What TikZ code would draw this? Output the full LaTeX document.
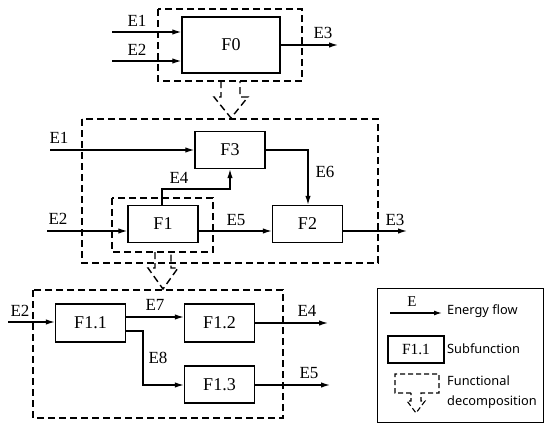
\documentclass[tikz,border=0pt]{standalone}
\usepackage{fontspec}
\setmainfont{Liberation Serif}
\newfontfamily\legendfont{Noto Sans}
\usetikzlibrary{arrows.meta}

\begin{document}
\begin{tikzpicture}[x=1pt,y=-1pt,
  fnbox/.style={draw,line width=1.4pt,minimum width=70pt,minimum height=37pt,inner sep=0pt,font=\fontsize{18}{20}\selectfont},
  decomp/.style={draw,line width=1.4pt,dash pattern=on 7pt off 4pt},
  eflow/.style={-{Latex[length=9pt,width=5.5pt]},line width=1.3pt},
  elabel/.style={font=\fontsize{17}{19}\selectfont,inner sep=0pt},
  legtext/.style={font=\legendfont\fontsize{12.8}{14}\selectfont,anchor=west,inner sep=0pt}]
  \useasboundingbox (0,0) rectangle (550,431);

  % top level
  \node[fnbox,minimum width=98pt,minimum height=56pt] (F0) at (231,45) {F0};
  \draw[decomp] (158,9) rectangle (302,81);
  \coordinate (e1a) at (112,32);
  \coordinate (e2a) at (112,61);
  \coordinate (e3a) at (338,45);
  \draw[eflow] (e1a) -- (e1a -| F0.west);
  \draw[eflow] (e2a) -- (e2a -| F0.west);
  \draw[eflow] (F0.east) -- (e3a);
  \node[elabel] (l1a) at (137,21) {E1};
  \node[elabel] (l2a) at (137,50) {E2};
  \node[elabel] (l3a) at (323,33) {E3};
  \draw[decomp] (221,81) -- (221,97) -- (214,97) -- (231,118) -- (248,97) -- (240,97) -- (240,81);

  % second level
  \draw[decomp] (82,119) rectangle (378,263);
  \node[fnbox] (F3) at (230,150) {F3};
  \node[fnbox] (F1) at (163,224) {F1};
  \node[fnbox] (F2) at (307.5,224) {F2};
  \draw[decomp] (112,198) rectangle (213,252);
  \coordinate (e1b) at (50,150);
  \coordinate (e2b) at (47,231);
  \coordinate (e3b) at (407,231);
  \coordinate (e4b) at (162,189);
  \coordinate (e6b) at (308,150);
  \draw[eflow] (e1b) -- (F3.west);
  \draw[eflow] (e2b) -- (e2b -| F1.west);
  \draw[eflow] (F1.east |- e2b) -- (F2.west |- e2b);
  \draw[eflow] (F2.east |- e2b) -- (e3b);
  \draw[eflow] (F1.north -| e4b) -- (e4b) -| (F3.south);
  \draw[eflow] (F3.east) -- (e6b) -- (F2.north -| e6b);
  \node[elabel] (l1b) at (59,138) {E1};
  \node[elabel] (l2b) at (58,219) {E2};
  \node[elabel] (l4b) at (179,178) {E4};
  \node[elabel] (l5b) at (236,220) {E5};
  \node[elabel] (l6b) at (325,172) {E6};
  \node[elabel] (l3b) at (395,220) {E3};
  \draw[decomp] (155,252) -- (155,268) -- (148,268) -- (163,289) -- (178,268) -- (171,268) -- (171,252);

  % third level
  \draw[decomp] (33,290) rectangle (283,418);
  \node[fnbox,minimum height=38pt] (F11) at (90.5,323) {F1.1};
  \node[fnbox,minimum height=38pt] (F12) at (219.5,323) {F1.2};
  \node[fnbox] (F13) at (219.5,384.5) {F1.3};
  \coordinate (e2c) at (8,322);
  \coordinate (e7c) at (126,317);
  \coordinate (e8c) at (143,331);
  \coordinate (e4c) at (328,323);
  \coordinate (e5c) at (330,385);
  \draw[eflow] (e2c) -- (e2c -| F11.west);
  \draw[eflow] (e7c) -- (e7c -| F12.west);
  \draw[eflow] (F11.east |- e8c) -- (e8c) |- (F13.west |- e5c);
  \draw[eflow] (F12.east |- e4c) -- (e4c);
  \draw[eflow] (F13.east |- e5c) -- (e5c);
  \node[elabel] (l2c) at (20,311) {E2};
  \node[elabel] (l7c) at (155,305) {E7};
  \node[elabel] (l8c) at (158,358) {E8};
  \node[elabel] (l4c) at (307,311) {E4};
  \node[elabel] (l5c) at (309,373) {E5};

  % legend
  \node[draw,line width=0.9pt,minimum width=166pt,minimum height=134pt,inner sep=0pt] (leg) at (460,355) {};
  \coordinate (ega) at (390,313);
  \coordinate (egb) at (442,313);
  \draw[eflow,-{Latex[length=8pt,width=5pt]}] (ega) -- (egb);
  \node[elabel,font=\fontsize{15}{17}\selectfont] (lE) at (412,302) {E};
  \node[fnbox,line width=1.1pt,minimum width=56pt,minimum height=27pt,font=\fontsize{15.5}{17}\selectfont] (Fleg) at (416,349.5) {F1.1};
  \draw[decomp,line width=1.1pt,dash pattern=on 5pt off 3pt] (411,393) -- (395,393) -- (395,374) -- (439,374) -- (439,393) -- (421,393) -- (421,401) -- (425,401) -- (416,413) -- (407,401) -- (411,401) -- cycle;
  \node[legtext] (tflow) at (447,311) {Energy flow};
  \node[legtext] (tsub) at (447,349) {Subfunction};
  \node[legtext] (tfun) at (447,381) {Functional};
  \node[legtext] (tdec) at (447,402) {decomposition};
\end{tikzpicture}
\end{document}
